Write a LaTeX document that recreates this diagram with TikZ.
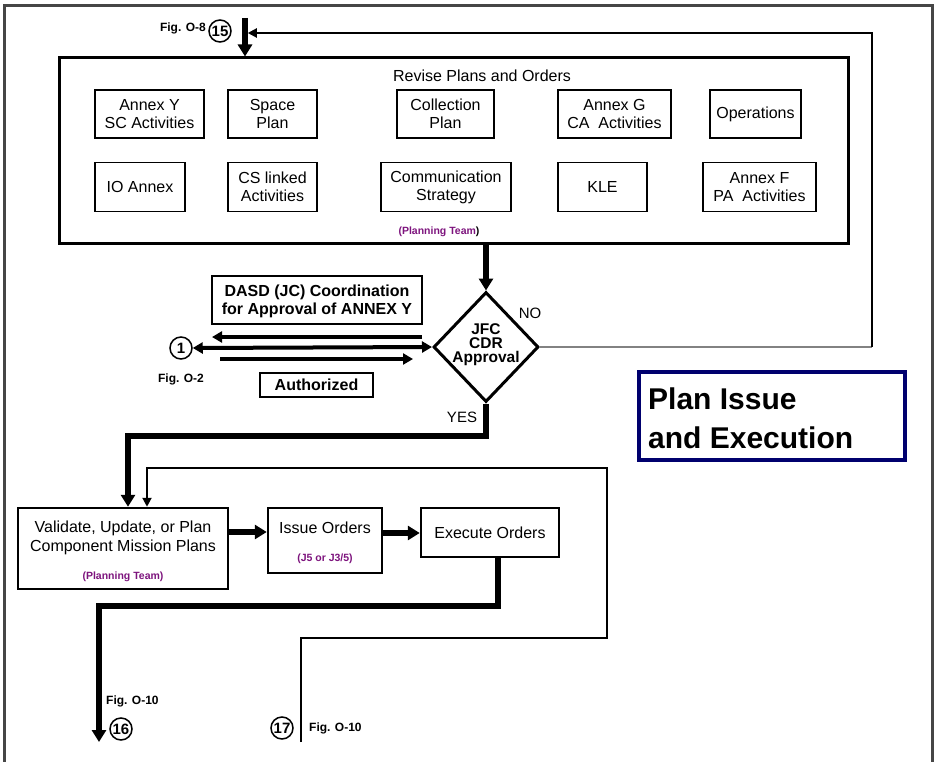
\documentclass[tikz,border=0pt]{standalone}
\usepackage{fontspec}
\setmainfont{Liberation Sans}
\usetikzlibrary{arrows.meta,shapes.geometric}
\definecolor{pteam}{RGB}{125,20,125}
\definecolor{navyb}{RGB}{0,0,110}
\definecolor{framegray}{RGB}{70,70,70}
\definecolor{nogray}{RGB}{130,130,130}
\begin{document}
\begin{tikzpicture}[x=1pt,y=-1pt,
  ibox/.style={draw, line width=1.8pt, align=center, inner sep=0pt, minimum height=48pt, font=\fontsize{16}{18}\selectfont},
  bigbox/.style={draw, line width=3pt, inner sep=0pt},
  fbox/.style={draw, line width=3pt, inner sep=0pt},
  txt/.style={inner sep=0pt, align=center, font=\fontsize{16}{19}\selectfont},
  btxt/.style={inner sep=0pt, align=center, font=\bfseries\fontsize{16}{18}\selectfont},
  heavy/.style={line width=5.5pt, -{Triangle[length=12pt,width=14pt]}},
  midarrow/.style={line width=4pt, -{Triangle[length=10pt,width=11pt]}},
  thinarrow/.style={line width=2pt, -{Triangle[length=9pt,width=9pt]}},
  circ/.style={circle, draw, line width=1.5pt, minimum size=22pt, inner sep=0pt, font=\bfseries\fontsize{15}{15}\selectfont},
  figlbl/.style={font=\bfseries\fontsize{12}{12}\selectfont, inner sep=0pt},
  purp/.style={text=pteam, font=\bfseries\fontsize{10.5}{12}\selectfont, inner sep=0pt}
]
\useasboundingbox (0,0) rectangle (936,762);
% outer frame (open at bottom)
\draw[framegray, line width=2.5pt] (4.5,762) -- (4.5,5.5) -- (932.5,5.5) -- (932.5,762);

% ---- top entry ----
\node[figlbl, anchor=east] (figo8) at (206,28) {Fig. O-8};
\node[circ] (c15) at (220,31) {15};
\coordinate (top15) at (245,18);

% ---- main box ----
\node[bigbox, minimum width=789pt, minimum height=185pt] (main) at (453.5,150.5) {};
\node[txt] (title) at (482,76) {Revise Plans and Orders};
\node[ibox, minimum width=109pt] (annexy) at (149.5,114) {Annex Y\\SC Activities};
\node[ibox, minimum width=89pt] (space) at (272.5,114) {Space\\Plan};
\node[ibox, minimum width=97pt] (collect) at (445.5,114) {Collection\\Plan};
\node[ibox, minimum width=113pt] (annexg) at (614.5,114) {Annex G\\CA\ \ Activities};
\node[ibox, minimum width=91pt] (ops) at (755.5,114) {Operations};
\node[ibox, minimum width=90pt, minimum height=49pt] (io) at (140,187) {IO Annex};
\node[ibox, minimum width=89pt, minimum height=49pt] (cs) at (272.5,187) {CS linked\\Activities};
\node[ibox, minimum width=130pt, minimum height=49pt] (comm) at (446,187) {Communication\\Strategy};
\node[ibox, minimum width=89pt, minimum height=49pt] (kle) at (602.5,187) {KLE};
\node[ibox, minimum width=113pt, minimum height=49pt] (annexf) at (759.5,187) {Annex F\\PA\ \ Activities};
\node[purp] (pt1) at (439,232) {(Planning Team\textcolor{black}{)}};

\draw[heavy] (top15) -- (top15 |- main.north);

% ---- decision ----
\node[diamond, draw, line width=3pt, minimum width=105pt, minimum height=110pt, inner sep=0pt] (dec) at (486,347) {};
\node[inner sep=0pt, align=center, font=\bfseries\fontsize{15.5}{14}\selectfont] (dectxt) at (486,345) {JFC\\CDR\\Approval};
\draw[heavy] (main.south -| dec.north) -- (dec.north);
\node[txt, font=\fontsize{15}{15}\selectfont] (nolbl) at (530,313) {NO};
\node[txt, font=\fontsize{15}{15}\selectfont] (yeslbl) at (462,417) {YES};

% NO loop back to top
\coordinate (noc) at (872,347);
\coordinate (topc) at (872,33);
\draw[nogray, line width=1.5pt] (dec.east) -- (noc);
\draw[thinarrow] (noc) -- (topc) -- ([xshift=2.75pt]top15 |- topc);

% ---- coordination ----
\node[draw, line width=1.8pt, minimum width=210pt, minimum height=48pt, inner sep=0pt] (dasd) at (317,300) {};
\node[btxt] (dasdtxt) at (317,301) {DASD (JC) Coordination\\for Approval of ANNEX Y};
\node[draw, line width=1.8pt, minimum width=113pt, minimum height=24pt, inner sep=0pt, font=\bfseries\fontsize{16}{18}\selectfont] (auth) at (316.5,385) {Authorized};
\node[circ] (c1) at (181,348) {1};
\node[figlbl] (figo2) at (181,379) {Fig. O-2};
\coordinate (a1s) at (422,337);
\coordinate (a1e) at (212,337);
\coordinate (a3s) at (220,359);
\coordinate (a3e) at (413,359);
\draw[midarrow] (a1s) -- (a1e);
\draw[line width=4pt, {Triangle[length=10pt,width=11pt]}-{Triangle[length=10pt,width=11pt]}] (c1.east) -- (dec.west);
\draw[midarrow] (a3s) -- (a3e);

% ---- title box ----
\node[draw=navyb, line width=4pt, minimum width=266pt, minimum height=88pt, inner sep=0pt] (pibox) at (772,416) {};
\node[anchor=west, align=left, inner sep=0pt, font=\bfseries\fontsize{30}{39}\selectfont] (pitxt) at (648,418) {Plan Issue\\and Execution};

% ---- execution row ----
\node[draw, line width=2.5pt, minimum width=210pt, minimum height=81pt, inner sep=0pt] (val) at (123,548.5) {};
\node[txt] (valtxt) at (123,538) {Validate, Update, or Plan\\Component Mission Plans};
\node[purp] (pt2) at (123,577) {(Planning Team)};
\node[draw, line width=2.5pt, minimum width=114pt, minimum height=65pt, inner sep=0pt] (iss) at (325,540.5) {};
\node[txt] (isstxt) at (325,528) {Issue Orders};
\node[purp] (j5) at (325,559) {(J5 or J3/5)};
\node[draw, line width=2.5pt, minimum width=138pt, minimum height=49pt, inner sep=0pt, font=\fontsize{16}{18}\selectfont] (exe) at (490,532.5) {Execute Orders};

% YES path
\coordinate (yb) at (486,436);
\coordinate (yl) at (128,436);
\draw[heavy] (dec.south) -- (yb) -- (yl) -- (yl |- val.north);

\coordinate (r1) at (0,532);
\coordinate (r2) at (0,533);
\draw[heavy] (val.east |- r1) -- (iss.west |- r1);
\draw[heavy] (iss.east |- r2) -- (exe.west |- r2);

% to 16
\coordinate (e1) at (498,606);
\coordinate (e2) at (99,606);
\coordinate (e3) at (99,742);
\draw[heavy] (exe.south -| e1) -- (e1) -- (e2) -- (e3);
\node[figlbl, anchor=west] (figo10a) at (106,701) {Fig. O-10};
\node[circ] (c16) at (121,729) {16};

% from 17 feedback
\coordinate (f0) at (301,742);
\coordinate (f1) at (301,638);
\coordinate (f2) at (607,638);
\coordinate (f3) at (607,468);
\coordinate (f4) at (147,468);
\draw[thinarrow] (f0) -- (f1) -- (f2) -- (f3) -- (f4) -- (f4 |- val.north);
\node[circ] (c17) at (282,728) {17};
\node[figlbl, anchor=west] (figo10b) at (309,728) {Fig. O-10};
\end{tikzpicture}
\end{document}
